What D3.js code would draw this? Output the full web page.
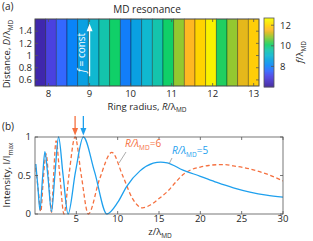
<!DOCTYPE html>
<html><head><meta charset="utf-8">
<script src="https://cdn.jsdelivr.net/npm/d3@7"></script>
<style>body{margin:0;background:#fff}svg{display:block}text{font-family:"Open Sans",sans-serif;fill:#262626}</style>
</head><body>
<script>
// ---- data ----
const ringRadius = [7.8,8.06,8.32,8.58,8.84,9.1,9.36,9.62,9.88,10.14,10.4,10.66,10.92,11.18,11.44,11.7,11.96,12.22,12.48,12.74,13.0];
const fValues = [6.3,7.0,7.6,8.1,8.6,9.1,9.6,10.1,8.0,8.6,9.1,9.6,10.1,10.9,11.6,12.0,12.5,10.2,10.9,11.4,11.9];
const xTicksA = [8,9,10,11,12,13];
const yTicksA = [0.6,0.8,1,1.2,1.4];
const cbTicks = [8,10,12];
const zBlue = [0.1,0.35,0.6,0.9,1.2,1.55,2.0,2.4,2.85,3.4,4.0,4.9,5.85,7.2,8.7,10,11.1,12.7,14.3,15.2,16,17.9,20,22,24,26,28,30];
const iBlue = [0.65,0.35,0.05,0.45,0.81,0.5,0.03,0.5,1.0,0.5,0.0,0.55,1.0,0.55,0.0,0.15,0.36,0.56,0.66,0.675,0.665,0.57,0.49,0.41,0.34,0.285,0.245,0.22];
const zOrange = [0.1,0.4,0.7,1.0,1.35,1.65,2.0,2.25,2.55,3.0,3.5,4.1,4.85,5.6,6.45,7.8,9.3,10.6,11.8,13.0,14,15,16,17,18,19,20,21,22,23,24,26,28,30];
const iOrange = [0.6,0.3,0.03,0.45,0.78,0.45,0.02,0.5,0.95,0.5,0.0,0.5,1.0,0.5,0.0,0.45,0.8,0.5,0.2,0.08,0.12,0.2,0.29,0.41,0.52,0.58,0.61,0.63,0.64,0.64,0.625,0.585,0.52,0.43];
const xTicksB = [5,10,15,20,25,30];
const yTicksB = [0,0.5,1];
const peakZ = [4.85,5.85];

const W=313,H=241;
const svg=d3.select("body").append("svg").attr("width",W).attr("height",H);
const axisCol="#555";
const FS="9.5px";

// colormap (parula-like)
const cmapVals=[6.0,6.6,7.1,7.6,8.1,8.6,9.1,9.6,10.1,10.5,10.9,11.3,11.6,12.0,12.6];
const cmapCols=["#3a1e96","#4430c4","#4b45e6","#3468ff","#0a84f8","#0aa0e2","#10b8d0","#14c4ac","#10d068","#50cc48","#94c830","#d8b818","#ffb822","#ffd400","#f8f800"];
const color=d3.scaleLinear().domain(cmapVals).range(cmapCols).clamp(true);

function label(sel, parts){ // parts: [text, kind]
  parts.forEach(([t,k])=>{
    const ts=sel.append("tspan").text(t);
    if(k==="i") ts.style("font-style","italic");
    if(k==="sub") ts.attr("font-size","6.5px").attr("dy","2.5");
    if(k==="after") ts.attr("dy","-2.5");
  });
}

// ---------- panel (a) ----------
const xA=d3.scaleLinear().domain([7.67,13.13]).range([35,259]);
const yA=d3.scaleLinear().domain([0.5,1.6]).range([86,19]);
const half=0.13;
const gA=svg.append("g");
gA.selectAll("rect.cell").data(ringRadius).join("rect")
  .attr("x",d=>xA(d-half)).attr("width",d=>xA(d+half)-xA(d-half))
  .attr("y",yA(1.6)).attr("height",yA(0.5)-yA(1.6))
  .attr("fill",(d,i)=>color(fValues[i]))
  .attr("stroke","rgba(0,0,0,0.4)").attr("stroke-width",0.8);
gA.append("rect").attr("x",35).attr("y",19).attr("width",224).attr("height",67)
  .attr("fill","none").attr("stroke",axisCol).attr("stroke-width",0.8);
// ticks
xTicksA.forEach(t=>{
  gA.append("line").attr("x1",xA(t)).attr("x2",xA(t)).attr("y1",86).attr("y2",83).attr("stroke",axisCol).attr("stroke-width",0.8);
  gA.append("line").attr("x1",xA(t)).attr("x2",xA(t)).attr("y1",19).attr("y2",22).attr("stroke",axisCol).attr("stroke-width",0.8);
  gA.append("text").attr("x",xA(t)).attr("y",97).attr("text-anchor","middle").attr("font-size",FS).text(t);
});
yTicksA.forEach(t=>{
  gA.append("line").attr("x1",35).attr("x2",38).attr("y1",yA(t)).attr("y2",yA(t)).attr("stroke",axisCol).attr("stroke-width",0.8);
  gA.append("line").attr("x1",259).attr("x2",256).attr("y1",yA(t)).attr("y2",yA(t)).attr("stroke",axisCol).attr("stroke-width",0.8);
  gA.append("text").attr("x",32).attr("y",yA(t)+3.3).attr("text-anchor","end").attr("font-size",FS).text(t);
});
svg.append("text").attr("x",147).attr("y",13).attr("text-anchor","middle").attr("font-size","10px").text("MD resonance");
svg.append("text").attr("x",2).attr("y",10).attr("font-size","10px").text("(a)");
label(svg.append("text").attr("x",147).attr("y",109.5).attr("text-anchor","middle").attr("font-size",FS),
  [["Ring radius, ",""],["R","i"],["/λ",""],["MD","sub"]]);
label(svg.append("text").attr("transform","translate(10,54) rotate(-90)").attr("text-anchor","middle").attr("font-size",FS),
  [["Distance, ",""],["D","i"],["/λ",""],["MD","sub"]]);
// f = const arrow
const ax=xA(9);
svg.append("line").attr("x1",ax).attr("x2",ax).attr("y1",yA(0.66)).attr("y2",yA(1.42)).attr("stroke","#fff").attr("stroke-width",1.3);
svg.append("path").attr("d",`M${ax-3},${yA(1.4)} L${ax},${yA(1.52)} L${ax+3},${yA(1.4)} Z`).attr("fill","#fff");
label(svg.append("text").attr("transform",`translate(${ax-5},${yA(1.05)}) rotate(-90)`).attr("text-anchor","middle").attr("font-size","10px").style("fill","#fff"),
  [["f","i"],[" = const",""]]);

// colorbar
const cb=d3.scaleLinear().domain([6.0,12.7]).range([87,18]);
const cbG=svg.append("g");
const steps=d3.range(6.0,12.7,0.05);
cbG.selectAll("rect").data(steps).join("rect")
  .attr("x",264).attr("width",10).attr("y",d=>cb(d+0.05)).attr("height",d=>cb(d)-cb(d+0.05)+0.3)
  .attr("fill",d=>color(d+0.025));
cbG.append("rect").attr("x",264).attr("y",18).attr("width",10).attr("height",69).attr("fill","none").attr("stroke",axisCol).attr("stroke-width",0.8);
cbTicks.forEach(t=>{
  cbG.append("line").attr("x1",274).attr("x2",271).attr("y1",cb(t)).attr("y2",cb(t)).attr("stroke",axisCol).attr("stroke-width",0.8);
  cbG.append("text").attr("x",280).attr("y",cb(t)+3.3).attr("font-size",FS).text(t);
});
label(svg.append("text").attr("transform","translate(303,52) rotate(-90)").attr("text-anchor","middle").attr("font-size",FS),
  [["f","i"],["/λ",""],["MD","sub"]]);

// ---------- panel (b) ----------
const xB=d3.scaleLinear().domain([0,30]).range([35,283]);
const yB=d3.scaleLinear().domain([0,1]).range([214,137]);
const gB=svg.append("g");
svg.append("defs").append("clipPath").attr("id","clipB").append("rect").attr("x",35).attr("y",136).attr("width",248).attr("height",79);
const line=d3.line().x(d=>xB(d[0])).y(d=>yB(d[1])).curve(d3.curveMonotoneX);
gB.append("path").attr("clip-path","url(#clipB)").attr("d",line(zOrange.map((z,i)=>[z,iOrange[i]])))
  .attr("fill","none").attr("stroke","#f5703f").attr("stroke-width",1.3).attr("stroke-dasharray","4,2.6");
gB.append("path").attr("clip-path","url(#clipB)").attr("d",line(zBlue.map((z,i)=>[z,iBlue[i]])))
  .attr("fill","none").attr("stroke","#1ea0ee").attr("stroke-width",1.3);
gB.append("rect").attr("x",35).attr("y",137).attr("width",248).attr("height",77).attr("fill","none").attr("stroke",axisCol).attr("stroke-width",0.8);
xTicksB.forEach(t=>{
  gB.append("line").attr("x1",xB(t)).attr("x2",xB(t)).attr("y1",214).attr("y2",211).attr("stroke",axisCol).attr("stroke-width",0.8);
  gB.append("line").attr("x1",xB(t)).attr("x2",xB(t)).attr("y1",137).attr("y2",140).attr("stroke",axisCol).attr("stroke-width",0.8);
  gB.append("text").attr("x",xB(t)).attr("y",222).attr("text-anchor","middle").attr("font-size",FS).text(t);
});
yTicksB.forEach(t=>{
  gB.append("line").attr("x1",35).attr("x2",38).attr("y1",yB(t)).attr("y2",yB(t)).attr("stroke",axisCol).attr("stroke-width",0.8);
  gB.append("line").attr("x1",283).attr("x2",280).attr("y1",yB(t)).attr("y2",yB(t)).attr("stroke",axisCol).attr("stroke-width",0.8);
  gB.append("text").attr("x",31).attr("y",yB(t)+3.3).attr("text-anchor","end").attr("font-size",FS).text(t);
});
svg.append("text").attr("x",2).attr("y",130).attr("font-size","10px").text("(b)");
label(svg.append("text").attr("x",160).attr("y",235).attr("text-anchor","middle").attr("font-size",FS),
  [["z/λ",""],["MD","sub"]]);
label(svg.append("text").attr("transform","translate(10,175) rotate(-90)").attr("text-anchor","middle").attr("font-size",FS),
  [["Intensity, I/I",""],["max","sub"]]);
// arrows at peaks
const arrowCols=["#f5703f","#1ea0ee"];
peakZ.forEach((z,i)=>{
  const x=xB(z);
  svg.append("line").attr("x1",x).attr("x2",x).attr("y1",116).attr("y2",129).attr("stroke",arrowCols[i]).attr("stroke-width",1.3);
  svg.append("path").attr("d",`M${x-3},128 L${x},135.5 L${x+3},128 Z`).attr("fill",arrowCols[i]);
});
// series labels
label(svg.append("text").attr("x",125).attr("y",147).attr("font-size","10px").style("fill","#f5703f"),
  [["R","i"],["/λ","i"],["MD","sub"],["=6","after"]]);
svg.append("line").attr("x1",126).attr("y1",152).attr("x2",119).attr("y2",163).attr("stroke","#888").attr("stroke-width",0.7);
label(svg.append("text").attr("x",172).attr("y",154).attr("font-size","10px").style("fill","#1ea0ee"),
  [["R","i"],["/λ","i"],["MD","sub"],["=5","after"]]);
svg.append("line").attr("x1",172).attr("y1",158).attr("x2",169).attr("y2",164).attr("stroke","#888").attr("stroke-width",0.7);
</script>
</body></html>
